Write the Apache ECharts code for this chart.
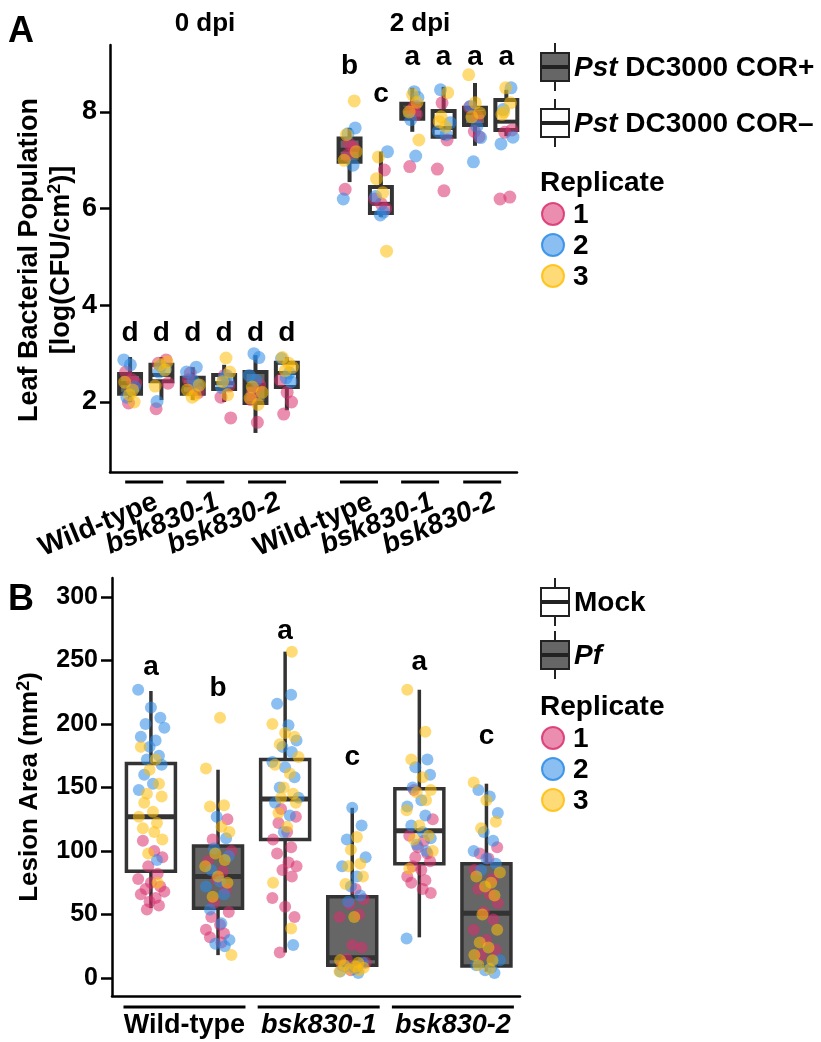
<!DOCTYPE html>
<html>
<head>
<meta charset="utf-8">
<script src="https://cdn.jsdelivr.net/npm/echarts@6/dist/echarts.min.js"></script>
<style>
html, body { margin: 0; padding: 0; background: #fff; }
#main { width: 821px; height: 1042px; }
</style>
</head>
<body>
<div id="main"></div>
<script>
const FONT = '"Liberation Sans", Arial, sans-serif'

// ---- panel A : bacterial population ----
const posA = [1, 2, 3, 4, 5, 6, 8, 9, 10, 11, 12, 13]
const strainA = ['COR+', 'COR-', 'COR+', 'COR-', 'COR+', 'COR-', 'COR+', 'COR-', 'COR+', 'COR-', 'COR+', 'COR-']
// min, q1, median, q3, max
const boxA = [
  [2.00, 2.17, 2.39, 2.58, 2.93],
  [2.04, 2.43, 2.56, 2.77, 2.93],
  [2.04, 2.17, 2.35, 2.50, 2.72],
  [2.00, 2.27, 2.39, 2.56, 2.77],
  [1.36, 1.98, 2.35, 2.62, 2.97],
  [1.83, 2.31, 2.60, 2.81, 2.93],
  [6.55, 6.97, 7.22, 7.45, 7.67],
  [5.83, 5.91, 6.10, 6.45, 7.18],
  [7.59, 7.86, 8.07, 8.17, 8.50],
  [7.42, 7.49, 7.67, 8.02, 8.52],
  [7.30, 7.73, 7.98, 8.09, 8.60],
  [7.50, 7.63, 7.80, 8.25, 8.46]
]
const rep1A = [
  [2.62, 2.46, 2.39, 1.98], [2.87, 2.80, 2.39, 1.86], [2.60, 2.46, 2.30, 2.20],
  [2.55, 2.33, 2.10, 1.67], [2.35, 2.20, 2.05, 1.58], [2.45, 2.20, 2.00, 1.75],
  [7.35, 7.26, 7.10, 6.40], [6.80, 6.20, 6.10, 6.00], [8.13, 8.04, 7.95, 6.87],
  [8.19, 7.42, 6.82, 6.37], [8.10, 7.90, 7.60, 7.49], [7.63, 7.58, 6.24, 6.20]
]
const rep2A = [
  [2.87, 2.77, 2.31, 2.10], [2.75, 2.68, 2.62, 2.01], [2.72, 2.62, 2.45, 2.35],
  [2.55, 2.48, 2.40, 2.30], [3.00, 2.92, 2.55, 2.45], [2.90, 2.60, 2.50, 2.42],
  [7.67, 7.55, 6.90, 6.20], [7.18, 6.25, 5.93, 5.87], [8.42, 8.30, 7.84, 7.09],
  [8.46, 7.78, 7.60, 7.53], [8.12, 7.70, 7.47, 6.97], [8.50, 8.05, 7.48, 7.34]
]
const rep3A = [
  [2.41, 2.25, 2.15, 2.00], [2.83, 2.77, 2.66, 2.33], [2.35, 2.25, 2.15, 2.10],
  [2.91, 2.62, 2.42, 2.15], [2.31, 2.20, 2.08, 1.95], [2.92, 2.80, 2.72, 2.65],
  [8.23, 7.53, 7.18, 7.00], [7.07, 6.62, 6.33, 5.12], [8.36, 8.20, 8.00, 7.42],
  [8.40, 7.90, 7.80, 7.70], [8.77, 8.19, 7.98, 7.90], [8.50, 8.19, 8.00, 7.95]
]
const lettersA = ['d', 'd', 'd', 'd', 'd', 'd', 'b', 'c', 'a', 'a', 'a', 'a']
const letterYA = [3.43, 3.43, 3.43, 3.43, 3.43, 3.43, 8.94, 8.36, 9.14, 9.14, 9.14, 9.14]
const genoA = ['Wild-type', 'bsk830-1', 'bsk830-2', 'Wild-type', 'bsk830-1', 'bsk830-2']
const genoPosA = [1.45, 3.4, 5.37, 8.3, 10.25, 12.23]
const ticksA = [2, 4, 6, 8]
const jitA = [-0.14, 0.06, 0.18, -0.05, 0.11, -0.2, 0.01, 0.15, -0.1, 0.21, -0.17, 0.08, -0.02, 0.13, -0.08]

// ---- panel B : lesion area ----
const posB = [1, 2, 3, 4, 5, 6]
const treatB = ['Mock', 'Pf', 'Mock', 'Pf', 'Mock', 'Pf']
const boxB = [
  [55, 84, 127, 169, 226],
  [18, 55, 80, 104, 164],
  [20, 109, 141, 172, 257],
  [5, 10, 16, 64, 134],
  [32, 90, 116, 149, 227],
  [5, 9.5, 51, 90, 153]
]
const rep1B = [
  [108, 100, 95, 88, 82, 78, 75, 72, 70, 68, 66, 63, 60, 57, 54],
  [125, 109, 100, 92, 84, 78, 70, 59, 52, 48, 42, 38, 35, 32, 28],
  [133, 127, 122, 115, 109, 103, 98, 91, 88, 85, 80, 63, 56, 48, 20],
  [70, 62, 58, 50, 48, 26, 24, 15, 12, 10, 8, 6],
  [148, 125, 112, 108, 103, 98, 95, 92, 88, 85, 80, 77, 75, 70, 67],
  [103, 98, 94, 85, 78, 70, 66, 59, 52, 46, 38, 30, 22, 18]
]
const rep2B = [
  [227, 213, 205, 200, 197, 190, 187, 182, 175, 172, 168, 160, 153, 148, 93],
  [127, 110, 102, 96, 85, 76, 72, 66, 54, 43, 30, 27, 25],
  [223, 216, 199, 187, 182, 178, 170, 166, 158, 150, 142, 138, 128, 115, 26],
  [134, 120, 109, 95, 88, 80, 72, 65, 60, 12, 9, 7, 5, 4],
  [172, 166, 160, 150, 140, 135, 128, 120, 115, 110, 105, 100, 31],
  [148, 143, 130, 115, 108, 100, 94, 90, 85, 14, 10, 8, 6, 4]
]
const rep3B = [
  [182, 172, 164, 153, 145, 143, 138, 131, 127, 122, 118, 115, 109, 98, 75],
  [205, 165, 136, 135, 119, 115, 98, 93, 88, 80, 75, 64, 18],
  [257, 200, 193, 190, 184, 174, 168, 161, 150, 145, 142, 138, 130, 119, 75, 39],
  [111, 101, 90, 88, 80, 74, 48, 14, 12, 10, 9, 8, 7, 6, 5],
  [227, 194, 172, 158, 148, 146, 140, 132, 120, 112, 109, 100, 86],
  [154, 140, 123, 118, 83, 80, 75, 72, 65, 50, 38, 28, 24, 18, 14, 10, 7]
]
const lettersB = ['a', 'b', 'a', 'c', 'a', 'c']
const letterYB = [245, 228, 273, 174, 249, 190]
const genoB = ['Wild-type', 'bsk830-1', 'bsk830-2']
const genoPosB = [1.5, 3.5, 5.5]
const ticksB = [0, 50, 100, 150, 200, 250, 300]
const jitB = [-0.12, 0.05, 0.17, -0.04, 0.1, -0.19, 0.0, 0.14, -0.08, 0.2, -0.15, 0.07, -0.02, 0.12, -0.06, 0.16, -0.1, 0.03, -0.18, 0.09]

const repNames = ['1', '2', '3']
const repColors = ['#D9306E', '#2B8BE6', '#FFBE0A']

const chart = echarts.init(document.getElementById('main'))

function boxSeries(grid, pos, stats, kinds, darkKind, boxW, lw, medW) {
  return {
    type: 'custom',
    xAxisIndex: grid, yAxisIndex: grid,
    z: 2,
    silent: true,
    encode: { x: 0, y: [1, 2, 3, 4, 5] },
    data: pos.map((x, i) => [x].concat(stats[i])),
    renderItem(params, api) {
      const x = api.value(0)
      const dark = kinds[params.dataIndex] === darkKind
      const c = v => api.coord([x, v])
      const pMin = c(api.value(1)), pQ1 = c(api.value(2)), pMed = c(api.value(3))
      const pQ3 = c(api.value(4)), pMax = c(api.value(5))
      const hw = api.size([boxW, 0])[0] / 2
      const cx = pMed[0]
      const st = { stroke: '#333', lineWidth: lw }
      return {
        type: 'group',
        children: [
          { type: 'line', shape: { x1: cx, y1: pMax[1], x2: cx, y2: pQ3[1] }, style: st },
          { type: 'line', shape: { x1: cx, y1: pQ1[1], x2: cx, y2: pMin[1] }, style: st },
          { type: 'rect', shape: { x: cx - hw, y: pQ3[1], width: hw * 2, height: pQ1[1] - pQ3[1] },
            style: { fill: dark ? '#666' : '#fff', stroke: '#333', lineWidth: lw } },
          { type: 'line', shape: { x1: cx - hw, y1: pMed[1], x2: cx + hw, y2: pMed[1] },
            style: { stroke: '#333', lineWidth: medW } }
        ]
      }
    }
  }
}

function pointSeries(grid, pos, reps, jit, size) {
  return reps.map((rep, r) => {
    const data = []
    rep.forEach((vals, g) => {
      vals.forEach((v, i) => {
        data.push([pos[g] + jit[(g * 7 + r * 5 + i) % jit.length], v])
      })
    })
    return {
      type: 'scatter', name: repNames[r],
      xAxisIndex: grid, yAxisIndex: grid,
      z: 3, silent: true,
      symbolSize: size,
      itemStyle: { color: repColors[r], opacity: 0.55 },
      data
    }
  })
}

// significance letters drawn as text at (x, value)
function letterSeries(grid, pos, letters, ys) {
  return {
    type: 'custom', xAxisIndex: grid, yAxisIndex: grid,
    z: 4, silent: true,
    encode: { x: 0, y: 1 },
    data: pos.map((x, i) => [x, ys[i]]),
    renderItem(params, api) {
      const p = api.coord([api.value(0), api.value(1)])
      return {
        type: 'text', x: p[0], y: p[1],
        style: { text: letters[params.dataIndex], align: 'center', verticalAlign: 'middle',
          fill: '#000', fontSize: 28, fontWeight: 'bold', fontFamily: FONT }
      }
    }
  }
}

function genoSeries(grid, names, posList, yBase, rotated) {
  return {
    type: 'custom', xAxisIndex: grid, yAxisIndex: grid,
    silent: true, clip: false, z: 5,
    encode: { x: 0, y: 1 },
    data: posList.map(x => [x, yBase]),
    renderItem(params, api) {
      const p = api.coord([api.value(0), api.value(1)])
      const name = names[params.dataIndex]
      const italic = name !== 'Wild-type'
      const half = rotated ? 19 : 61
      const ly = p[1] + (rotated ? 10 : 11)
      const text = rotated
        ? { type: 'text', x: p[0] + 7, y: ly + 6, rotation: Math.PI / 8,
            style: { text: name, align: 'right', verticalAlign: 'top', fill: '#000',
              fontSize: 28, fontWeight: 'bold', fontStyle: italic ? 'italic' : 'normal', fontFamily: FONT } }
        : { type: 'text', x: p[0], y: ly + 5,
            style: { text: name, align: 'center', verticalAlign: 'top', fill: '#000',
              fontSize: 27, fontWeight: 'bold', fontStyle: italic ? 'italic' : 'normal', fontFamily: FONT } }
      return {
        type: 'group',
        children: [
          { type: 'line', shape: { x1: p[0] - half, y1: ly, x2: p[0] + half, y2: ly },
            style: { stroke: '#000', lineWidth: 3 } },
          text
        ]
      }
    }
  }
}

const axisBase = {
  axisLine: { show: true, onZero: false, lineStyle: { color: '#000', width: 2.5 } },
  splitLine: { show: false }
}

function legendBox(cx, cy, dark) {
  return [
    { type: 'line', shape: { x1: cx, y1: cy - 24, x2: cx, y2: cy + 24 }, style: { stroke: '#222', lineWidth: 2 } },
    { type: 'rect', shape: { x: cx - 14, y: cy - 14, width: 28, height: 28 },
      style: { fill: dark ? '#666' : '#fff', stroke: '#222', lineWidth: 2 } },
    { type: 'line', shape: { x1: cx - 14, y1: cy, x2: cx + 14, y2: cy }, style: { stroke: '#222', lineWidth: 4 } }
  ]
}

function txt(x, y, text, extra) {
  return {
    type: 'text', x, y,
    style: Object.assign({ text, fill: '#000', fontSize: 28, fontWeight: 'bold', fontFamily: FONT,
      verticalAlign: 'middle', align: 'left' }, extra || {})
  }
}

function repLegend(y0) {
  const out = [txt(540, y0, 'Replicate')]
  repColors.forEach((c, i) => {
    const cy = y0 + 31 + i * 31
    out.push({ type: 'circle', shape: { cx: 553, cy, r: 11 },
      style: { fill: echarts.color.modifyAlpha(c, 0.55), stroke: echarts.color.modifyAlpha(c, 0.85), lineWidth: 2 } })
    out.push(txt(573, cy + 1, repNames[i]))
  })
  return out
}

const italicRich = { i: { fontStyle: 'italic', fontWeight: 'bold', fontSize: 28, fontFamily: FONT } }
const supRich = { s: { fontSize: 18, fontWeight: 'bold', fontFamily: FONT, verticalAlign: 'top', lineHeight: 18 } }

const graphics = [].concat(
  [txt(8, 32, 'A', { fontSize: 36 }), txt(8, 600, 'B', { fontSize: 36 })],
  [txt(205, 24, '0 dpi', { align: 'center', fontSize: 26 }), txt(420, 24, '2 dpi', { align: 'center', fontSize: 26 })],
  [Object.assign(txt(30, 260, 'Leaf Bacterial Population', { align: 'center', fontSize: 27 }), { rotation: Math.PI / 2 }),
   Object.assign(txt(62, 260, '[log(CFU/cm{s|2})]', { align: 'center', fontSize: 27, rich: supRich, lineHeight: 31 }), { rotation: Math.PI / 2 }),
   Object.assign(txt(30, 787, 'Lesion Area (mm{s|2})', { align: 'center', fontSize: 26, rich: supRich, lineHeight: 30 }), { rotation: Math.PI / 2 })],
  legendBox(555, 67, true), legendBox(555, 123, false),
  [txt(574, 68, '{i|Pst} DC3000 COR+', { rich: italicRich }), txt(574, 124, '{i|Pst} DC3000 COR\u2013', { rich: italicRich })],
  repLegend(183),
  legendBox(555, 602, false), legendBox(555, 655, true),
  [txt(574, 603, 'Mock'), txt(574, 656, 'Pf', { fontStyle: 'italic' })],
  repLegend(707)
)

const option = {
  animation: false,
  backgroundColor: '#fff',
  grid: [
    { left: 110, top: 45, width: 407, height: 427 },
    { left: 112, top: 578, width: 408, height: 418 }
  ],
  xAxis: [
    Object.assign({ type: 'value', gridIndex: 0, min: 0.36, max: 13.34, axisTick: { show: false }, axisLabel: { show: false } }, axisBase),
    Object.assign({ type: 'value', gridIndex: 1, min: 0.42, max: 6.5, axisTick: { show: false }, axisLabel: { show: false } }, axisBase)
  ],
  yAxis: [
    Object.assign({
      type: 'value', gridIndex: 0, min: 0.552, max: 9.386,
      axisTick: { show: true, length: 10, lineStyle: { color: '#000', width: 2.5 }, customValues: ticksA },
      axisLabel: { customValues: ticksA, color: '#000', fontSize: 27, fontWeight: 'bold', fontFamily: FONT, margin: 13 }
    }, axisBase),
    Object.assign({
      type: 'value', gridIndex: 1, min: -14.2, max: 315,
      axisTick: { show: true, length: 11, lineStyle: { color: '#000', width: 2.5 }, customValues: ticksB },
      axisLabel: { customValues: ticksB, color: '#000', fontSize: 25, fontWeight: 'bold', fontFamily: FONT, margin: 14 }
    }, axisBase)
  ],
  series: [
    boxSeries(0, posA, boxA, strainA, 'COR+', 0.7, 4, 4),
    boxSeries(1, posB, boxB, treatB, 'Pf', 0.73, 3.5, 5)
  ].concat(
    pointSeries(0, posA, [rep1A, rep2A, rep3A], jitA, 13),
    pointSeries(1, posB, [rep1B, rep2B, rep3B], jitB, 12),
    [letterSeries(0, posA, lettersA, letterYA), letterSeries(1, posB, lettersB, letterYB),
     genoSeries(0, genoA, genoPosA, 0.552, true), genoSeries(1, genoB, genoPosB, -14.2, false)]
  ),
  graphic: graphics
}

chart.setOption(option)
</script>
</body>
</html>
